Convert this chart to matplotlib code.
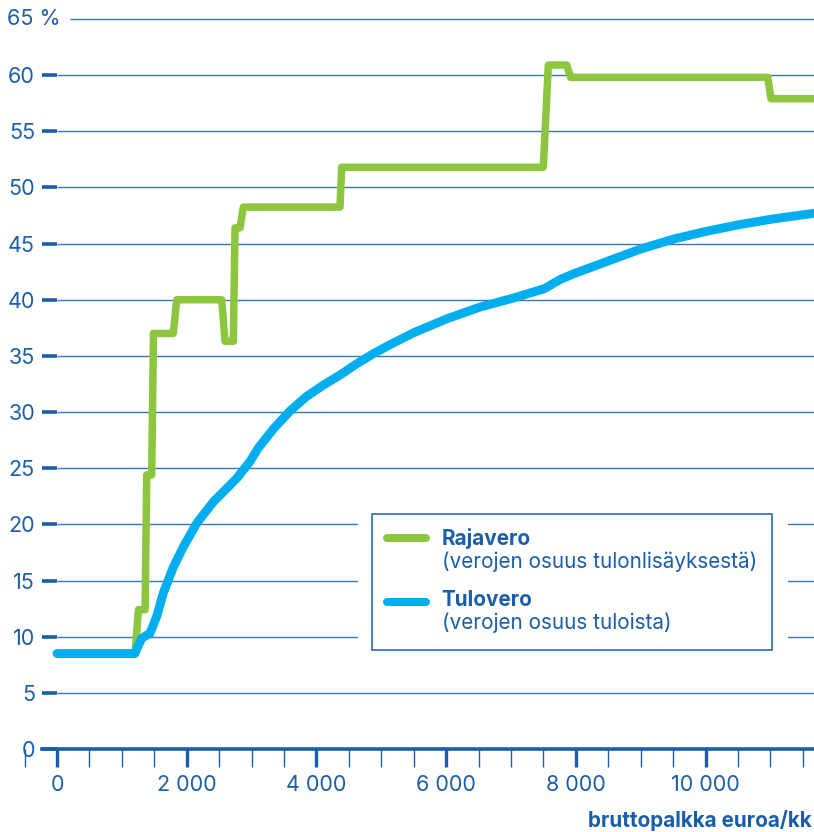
import matplotlib.pyplot as plt
import matplotlib.ticker as mticker
from matplotlib.patches import Rectangle
from matplotlib.lines import Line2D

plt.rcParams["font.family"] = ["Inter", "DejaVu Sans"]

TEXT = "#1a5ea9"
GRID = "#3a74bb"
GREEN = "#8cc63f"
BLUE = "#00aeef"

# Rajavero (marginal tax rate), % by gross monthly wage
raja_x = [0, 1204, 1255, 1358, 1384, 1460, 1487, 1793, 1846, 2540, 2591, 2719,
          2745, 2822, 2873, 4364, 4390, 7499, 7576, 7860, 7920, 10960, 11010, 11673]
raja_y = [8.5, 8.5, 12.4, 12.4, 24.4, 24.4, 37.0, 37.0, 40.0, 40.0, 36.3, 36.3,
          46.4, 46.4, 48.25, 48.25, 51.8, 51.8, 60.9, 60.9, 59.8, 59.8, 57.9, 57.9]

# Tulovero (average tax rate)
tulo_x = [0, 1200, 1306, 1434, 1537, 1640, 1794, 1948, 2154, 2410, 2668, 2771,
          2976, 3104, 3336, 3593, 3850, 4107, 4364, 4621, 4878, 5135, 5289, 5494,
          6009, 6523, 7036, 7520, 7757, 7961, 8476, 8990, 9504, 10018, 10532,
          11046, 11673]
tulo_y = [8.5, 8.5, 9.86, 10.3, 11.8, 13.9, 16.2, 18.0, 20.1, 22.0, 23.5, 24.1,
          25.6, 26.8, 28.5, 30.1, 31.4, 32.4, 33.3, 34.3, 35.2, 36.0, 36.45, 37.05,
          38.3, 39.35, 40.15, 41.0, 41.8, 42.3, 43.4, 44.5, 45.4, 46.1, 46.7,
          47.2, 47.7]

y_ticks = list(range(0, 65, 5))
x_ticks = [0, 2000, 4000, 6000, 8000, 10000]
x_labels = ["0", "2 000", "4 000", "6 000", "8 000", "10 000"]


def main():
    fig = plt.figure(figsize=(8.14, 8.32), dpi=100)
    ax = fig.add_axes([0, 0, 1, 1])
    ax.set_xlim(-879, 11673)
    ax.set_ylim(-7.39, 66.69)

    # grid
    ax.hlines(y_ticks[1:], 0, 11673, color=GRID, linewidth=1, zorder=1)
    ax.hlines(65, 200, 11673, color=GRID, linewidth=1, zorder=1)

    ax.plot(raja_x, raja_y, color=GREEN, linewidth=5.4,
            solid_joinstyle="round", solid_capstyle="round", zorder=3)
    ax.plot(tulo_x, tulo_y, color=BLUE, linewidth=6.4,
            solid_joinstyle="round", solid_capstyle="round", zorder=4)

    for s in ["top", "right"]:
        ax.spines[s].set_visible(False)
    ax.spines["left"].set_position(("data", -231))
    ax.spines["left"].set_visible(False)
    ax.spines["bottom"].set_position(("data", 0))
    ax.spines["bottom"].set_bounds(-231, 11673)
    ax.spines["bottom"].set_linewidth(2.6)
    ax.spines["bottom"].set_color(TEXT)
    ax.spines["bottom"].set_zorder(5)

    ax.set_xticks(x_ticks, x_labels)
    ax.xaxis.set_minor_locator(mticker.MultipleLocator(500))
    ax.tick_params(axis="x", which="major", direction="out", length=13.3,
                   width=2.4, color=TEXT, labelcolor=TEXT, labelsize=15.5, pad=5.5)
    ax.tick_params(axis="x", which="minor", direction="out", length=13.3,
                   width=1.0, color=TEXT)

    ax.set_yticks(y_ticks, [str(v) for v in y_ticks])
    ax.tick_params(axis="y", direction="in", length=10.8, width=2.6,
                   color=TEXT, labelcolor=TEXT, labelsize=15.5, pad=5)
    ax.annotate("65 %", xy=(-231, 65), xytext=(13.5, 0), textcoords="offset points",
                ha="right", va="center", color=TEXT, fontsize=15.5)

    ax.text(0.7224, 0.0064, "bruttopalkka euroa/kk", transform=ax.transAxes,
            ha="left", va="baseline", color=TEXT, fontsize=14.9, fontweight="bold")

    # legend
    ax.add_patch(Rectangle((0.4398, 0.2067), 0.5283, 0.1863, transform=ax.transAxes,
                           facecolor="white", edgecolor="none", zorder=6))
    ax.add_patch(Rectangle((0.4570, 0.2188), 0.4914, 0.1634, transform=ax.transAxes,
                           facecolor="white", edgecolor=TEXT, linewidth=1.1, zorder=7))
    for yy, col in [(0.3537, GREEN), (0.2768, BLUE)]:
        ax.add_line(Line2D([0.4754, 0.5233], [yy, yy], transform=ax.transAxes,
                           color=col, linewidth=5.8, solid_capstyle="round", zorder=8))
    entries = [
        (0.3450, "Rajavero", "bold"),
        (0.3177, "(verojen osuus tulonlisäyksestä)", "normal"),
        (0.2716, "Tulovero", "bold"),
        (0.2440, "(verojen osuus tuloista)", "normal"),
    ]
    for yy, txt, w in entries:
        ax.text(0.5426, yy, txt, transform=ax.transAxes, ha="left", va="baseline",
                color=TEXT, fontsize=14.9, fontweight=w, zorder=8)

    fig.savefig("out.png", dpi=100)


if __name__ == "__main__":
    main()
